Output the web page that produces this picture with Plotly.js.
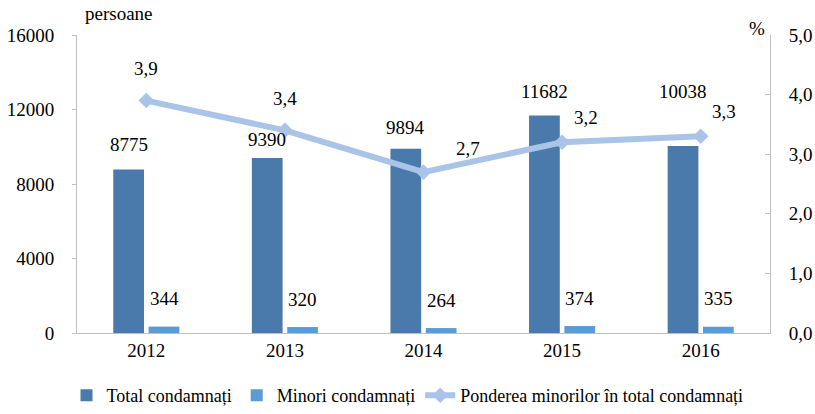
<!DOCTYPE html>
<html><head><meta charset="utf-8">
<script src="https://cdn.plot.ly/plotly-3.0.1.min.js"></script>
<style>html,body{margin:0;padding:0;background:#fff}</style>
</head><body>
<div id="chart" style="width:815px;height:414px"></div>
<script>
const years = ['2012','2013','2014','2015','2016'];
const totalCondamnati = [8775, 9390, 9894, 11682, 10038];
const minoriCondamnati = [344, 320, 264, 374, 335];
const ponderea = [3.9, 3.4, 2.7, 3.2, 3.3];
const leftTicks = [0, 4000, 8000, 12000, 16000];
const rightTicks = [0, 1, 2, 3, 4, 5];

// label placement (style only, pixels)
const totalLabelShift = [25, 19, 21, 24, 55];
const minorLabelShift = [28, 28, 28, 28, 28];
const lineLabelDX = [0, 0, 44, 24, 23];
const lineLabelDY = [32, 32, 24, 25, 25];
const barOffset = 17.7;

const fmt1 = v => v.toFixed(1).replace('.', ',');
const FAM = 'Liberation Serif, serif';
const mk = (s) => ({family: FAM, size: s, color: '#000'});

const traces = [
  {type:'bar', name:'Total condamnați', x: years, y: totalCondamnati, marker:{color:'#4a7aab'}},
  {type:'bar', name:'Minori condamnați', x: years, y: minoriCondamnati, marker:{color:'#5b9bd5'}},
  {type:'scatter', mode:'lines+markers', name:'Ponderea minorilor în total condamnați',
   x: years, y: ponderea, yaxis:'y2', cliponaxis:false,
   line:{color:'#a9c4e6', width:6}, marker:{symbol:'diamond', size:12, color:'#a9c4e6'}}
];

const annotations = [
  {text:'persoane', xref:'paper', yref:'paper', x:0.008, y:1.03, xanchor:'left', yanchor:'bottom', showarrow:false, font: mk(19)},
  {text:'%', xref:'paper', yref:'paper', x:0.995, y:0.98, xanchor:'right', yanchor:'bottom', showarrow:false, font: mk(19)}
];
years.forEach((yr, i) => {
  // x given as category index i (category axis)
  annotations.push({x: i, y: totalCondamnati[i], xref:'x', yref:'y', text: String(totalCondamnati[i]),
    showarrow:false, xanchor:'center', yanchor:'middle', xshift:-barOffset, yshift: totalLabelShift[i], font: mk(19)});
  annotations.push({x: i, y: minoriCondamnati[i], xref:'x', yref:'y', text: String(minoriCondamnati[i]),
    showarrow:false, xanchor:'center', yanchor:'middle', xshift: barOffset, yshift: minorLabelShift[i], font: mk(19)});
  annotations.push({x: i, y: ponderea[i], xref:'x', yref:'y2', text: fmt1(ponderea[i]),
    showarrow:false, xanchor:'center', yanchor:'middle', xshift: lineLabelDX[i], yshift: lineLabelDY[i], font: mk(19)});
});

const layout = {
  width: 815, height: 414,
  margin: {l:77, r:45, t:35, b:81},
  paper_bgcolor:'#fff', plot_bgcolor:'#fff',
  font: mk(19),
  showlegend: true,
  legend: {orientation:'h', x:0.5, xanchor:'center', xref:'container',
           y:0.0, yanchor:'bottom', yref:'container', font: mk(18),
           traceorder:'normal', itemwidth:30, tracegroupgap:0},
  bargap: 0.49, bargroupgap: 0.13,
  xaxis: {type:'category', categoryorder:'array', categoryarray: years, range:[-0.5, years.length - 0.5],
          autorange:false, showline:true, linecolor:'#bfbfbf', linewidth:1, ticks:'',
          tickfont: mk(19), showgrid:false, zeroline:false, automargin:false},
  yaxis: {range:[0,16000], tickvals: leftTicks, ticktext: leftTicks.map(String),
          showline:true, linecolor:'#bfbfbf', ticks:'outside', ticklen:4, tickcolor:'#bfbfbf',
          showgrid:false, zeroline:false, tickfont: mk(19), ticklabelstandoff: 14, automargin:false},
  yaxis2: {range:[0,5], overlaying:'y', side:'right', tickvals: rightTicks,
           ticktext: rightTicks.map(fmt1), showline:true, linecolor:'#bfbfbf',
           ticks:'inside', ticklen:5, tickcolor:'#bfbfbf', showgrid:false, zeroline:false,
           tickfont: mk(19), ticklabelstandoff: 14, automargin:false},
  annotations: annotations
};

Plotly.newPlot('chart', traces, layout, {displayModeBar:false, staticPlot:true});
</script>
</body></html>
